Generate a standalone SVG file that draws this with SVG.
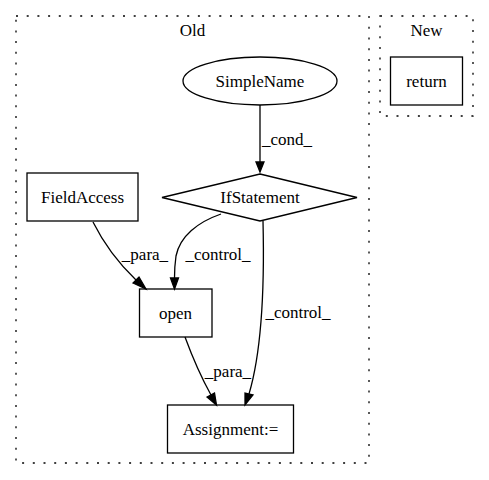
<svg xmlns="http://www.w3.org/2000/svg" width="489" height="480" viewBox="0 0 489 480">
<style>
text{font-family:"Liberation Serif","Times New Roman",serif;font-size:17px;fill:#000;text-anchor:middle}
.cl{fill:none;stroke:#000;stroke-width:1.3;stroke-dasharray:2,8.7}
.n{fill:none;stroke:#000;stroke-width:1.3}
.e{fill:none;stroke:#000;stroke-width:1.3}
.ah{fill:#000;stroke:#000;stroke-width:1.3}
</style>
<rect width="489" height="480" fill="#fff"/>
<g id="cluster_old">
<rect class="cl" x="16" y="16" width="353" height="447"/>
<text x="192.5" y="36">Old</text>
</g>
<g id="cluster_new">
<rect class="cl" x="380" y="16" width="93" height="100"/>
<text x="426.5" y="36">New</text>
</g>
<g id="connectors">
<path class="e" d="M260,105 L260,162"/>
<polygon class="ah" points="256,162 260,172 264,162"/>
<text x="287" y="145">_cond_</text>
<path class="e" d="M93,222 C101,238 114,259 136,280"/>
<polygon class="ah" points="133,283 146,289 139,277"/>
<text x="145" y="260">_para_</text>
<path class="e" d="M221,214 C198,222 180,236 176,256 C175,263 174.5,270 174.5,278"/>
<polygon class="ah" points="170.5,278 174.5,289 178.5,278"/>
<text x="218" y="260">_control_</text>
<path class="e" d="M263,221 C264,262 265,340 249,394"/>
<polygon class="ah" points="245,393 245,405 253,395"/>
<text x="298" y="318">_control_</text>
<path class="e" d="M185,337 C192,356 201,377 211,395"/>
<polygon class="ah" points="207,397 216.5,405 214.5,393"/>
<text x="228" y="377">_para_</text>
</g>
<g id="node_SimpleName">
<ellipse class="n" cx="260" cy="81" rx="77" ry="24"/>
<text x="260" y="86.5">SimpleName</text>
</g>
<g id="node_IfStatement">
<polygon class="n" points="260,174 357,197.5 260,221 162,197.5"/>
<text x="260" y="203">IfStatement</text>
</g>
<g id="node_FieldAccess">
<rect class="n" x="27" y="173" width="111" height="48"/>
<text x="82.5" y="202.5">FieldAccess</text>
</g>
<g id="node_open">
<rect class="n" x="139.5" y="289" width="72.5" height="48"/>
<text x="175.5" y="318.5">open</text>
</g>
<g id="node_Assignment">
<rect class="n" x="167.5" y="405" width="126" height="48"/>
<text x="230.5" y="434.5">Assignment:=</text>
</g>
<g id="node_return">
<rect class="n" x="390.5" y="57" width="72" height="48"/>
<text x="426.5" y="86.5">return</text>
</g>
</svg>
